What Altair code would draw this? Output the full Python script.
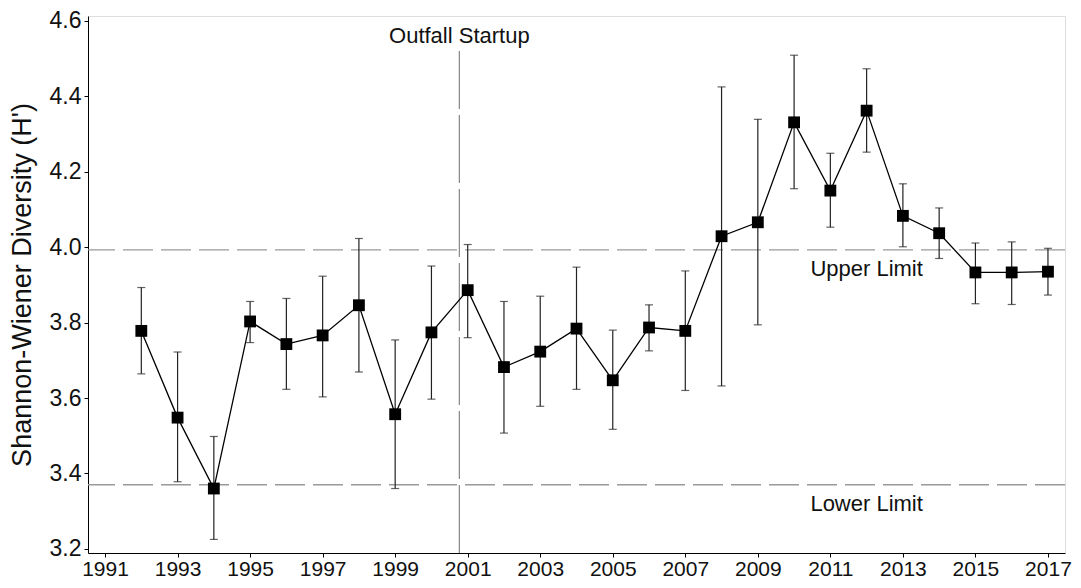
import altair as alt
import pandas as pd

years = list(range(1992, 2018))
means = [3.778, 3.548, 3.360, 3.803, 3.743, 3.766, 3.846, 3.557, 3.774, 3.886,
         3.682, 3.723, 3.784, 3.647, 3.787, 3.778, 4.029, 4.066, 4.331, 4.150,
         4.362, 4.083, 4.037, 3.933, 3.933, 3.935]
upper = [3.893, 3.722, 3.498, 3.856, 3.864, 3.923, 4.023, 3.754, 3.950, 4.007,
         3.856, 3.870, 3.947, 3.780, 3.847, 3.937, 4.425, 4.339, 4.509, 4.249,
         4.473, 4.168, 4.104, 4.011, 4.014, 3.997]
lower = [3.664, 3.378, 3.225, 3.747, 3.623, 3.603, 3.669, 3.360, 3.597, 3.760,
         3.507, 3.578, 3.623, 3.517, 3.725, 3.620, 3.632, 3.794, 4.155, 4.053,
         4.252, 4.001, 3.970, 3.850, 3.848, 3.873]

upper_limit = 3.993
lower_limit = 3.370
outfall_year = 2000.77
x_ticks = list(range(1991, 2018, 2))
y_ticks = [3.2, 3.4, 3.6, 3.8, 4.0, 4.2, 4.4, 4.6]

FONT = "Liberation Sans"
df = pd.DataFrame({"year": years, "mean": means, "hi": upper, "lo": lower})

xs = alt.Scale(domain=[1990.53, 2017.47], nice=False, zero=False)
ys = alt.Scale(domain=[3.189, 4.613], nice=False, zero=False)

xax = alt.Axis(values=x_ticks, format="d", title=None, grid=False,
               labelFontSize=21, labelFont=FONT, labelColor="#111",
               tickSize=4, labelPadding=1, domainColor="#000", tickColor="#000",
               labelFlush=False, labelOverlap=False)
yax = alt.Axis(values=y_ticks, format=".1f", title="Shannon-Wiener Diversity (H')",
               grid=False, labelFontSize=23, labelFont=FONT, labelColor="#111",
               titleFont=FONT, titleFontSize=27, titleFontWeight="normal", titleColor="#111",
               titlePadding=13, tickSize=4, labelPadding=3,
               domainColor="#000", tickColor="#000")

base = alt.Chart(df)

limits = pd.DataFrame({"v": [upper_limit, lower_limit]})
hlines = alt.Chart(limits).mark_rule(color="#999", strokeWidth=1.3, strokeDash=[30, 8]).encode(
    y=alt.Y("v:Q", scale=ys, axis=yax)
)

vline = alt.Chart(pd.DataFrame({"x": [outfall_year], "y0": [3.189], "y1": [4.52]})).mark_rule(
    color="#888", strokeWidth=1.2, strokeDash=[68, 6]
).encode(x=alt.X("x:Q", scale=xs, axis=xax), y=alt.Y("y0:Q", scale=ys), y2="y1:Q")

stems = base.mark_rule(color="#222", strokeWidth=1.2).encode(
    x=alt.X("year:Q", scale=xs, axis=xax),
    y=alt.Y("lo:Q", scale=ys, axis=yax),
    y2="hi:Q",
)
caps_hi = base.mark_tick(color="#222", orient="horizontal", size=8, thickness=1.2).encode(
    x=alt.X("year:Q", scale=xs), y=alt.Y("hi:Q", scale=ys)
)
caps_lo = base.mark_tick(color="#222", orient="horizontal", size=8, thickness=1.2).encode(
    x=alt.X("year:Q", scale=xs), y=alt.Y("lo:Q", scale=ys)
)
line = base.mark_line(color="#000", strokeWidth=1.3).encode(
    x=alt.X("year:Q", scale=xs), y=alt.Y("mean:Q", scale=ys)
)
pts = base.mark_point(shape="square", filled=True, color="#000", size=140, opacity=1).encode(
    x=alt.X("year:Q", scale=xs), y=alt.Y("mean:Q", scale=ys)
)

labels = pd.DataFrame({
    "x": [outfall_year, 2012, 2012],
    "y": [4.542, 3.923, 3.301],
    "t": ["Outfall Startup", "Upper Limit", "Lower Limit"],
})
texts = alt.Chart(labels).mark_text(font=FONT, fontSize=22, color="#111", align="center",
                                    baseline="alphabetic").encode(
    x=alt.X("x:Q", scale=xs), y=alt.Y("y:Q", scale=ys), text="t:N"
)

chart = alt.layer(hlines, vline, stems, caps_hi, caps_lo, line, pts, texts).properties(
    width=977, height=537,
    autosize=alt.AutoSizeParams(type="none"),
    padding={"left": 80, "top": 8, "right": 8, "bottom": 27},
).configure_view(stroke=None).configure(background="white")

chart.save("out.html", embed_options={"renderer": "svg", "actions": False})
